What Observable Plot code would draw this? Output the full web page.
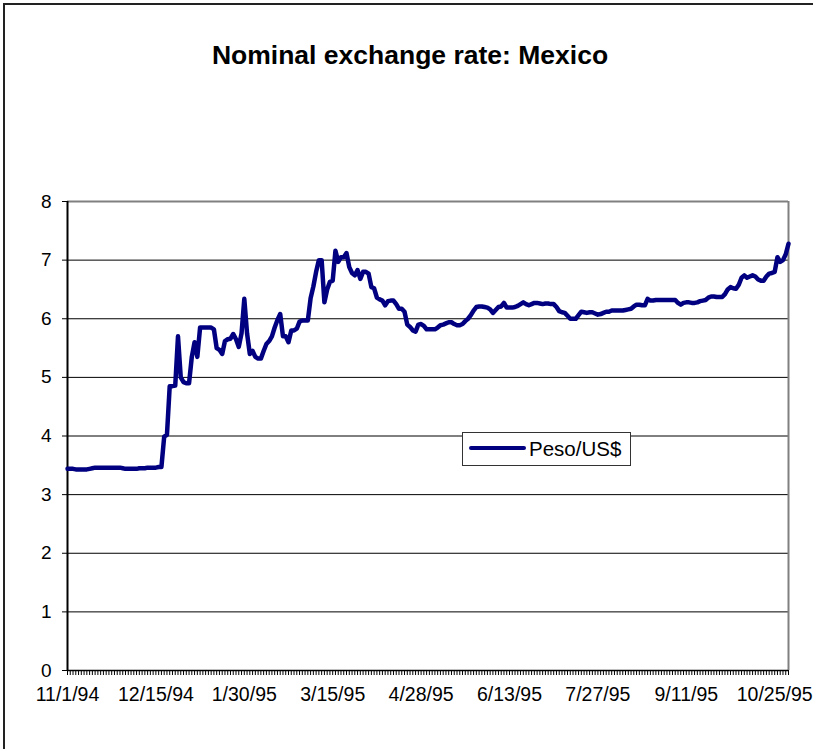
<!DOCTYPE html>
<html><head><meta charset="utf-8">
<script src="https://cdn.jsdelivr.net/npm/d3@7"></script>
<script src="https://cdn.jsdelivr.net/npm/@observablehq/plot@0.6"></script>
<style>
body{margin:0;background:#fff;font-family:"Liberation Sans",Arial,sans-serif;}
#wrap{position:relative;width:813px;height:749px;overflow:hidden;background:#fff;}
#frame{position:absolute;left:3px;top:3px;width:830px;height:770px;border:2px solid #222;}
#title{position:absolute;left:0;width:820px;top:40px;text-align:center;font-weight:bold;font-size:26.5px;color:#000;}
#chart{position:absolute;left:0;top:0;}
#legend{position:absolute;left:462px;top:432px;width:167px;height:32px;border:1px solid #333;background:#fff;}
#legend .sw{position:absolute;left:6px;top:13px;width:57px;height:4px;border-radius:2px;background:#000080;}
#legend .tx{position:absolute;left:66px;top:4px;font-size:20.5px;line-height:24px;color:#000;}
</style></head>
<body>
<div id="wrap">
  <div id="frame"></div>
  <div id="chart"></div>
  <div id="title">Nominal exchange rate: Mexico</div>
  <div id="legend"><div class="sw"></div><div class="tx">Peso/US$</div></div>
</div>
<script>
// Category tick labels (every 32nd business day)
const tickLabels = ["11/1/94","12/15/94","1/30/95","3/15/95","4/28/95","6/13/95","7/27/95","9/11/95","10/25/95"];
const seriesName = "Peso/US$";
// Daily (business-day) peso per US$ rate, 11/1/94 .. 11/1/95
const rate = [
3.44,3.44,3.44,3.43,3.43,3.43,3.43,3.43,3.44,3.45,
3.46,3.46,3.46,3.46,3.46,3.46,3.46,3.46,3.46,3.46,
3.45,3.44,3.44,3.44,3.44,3.44,3.45,3.45,3.45,3.46,
3.46,3.46,3.46,3.47,3.47,3.99,4.02,4.85,4.85,4.86,
5.70,5.00,4.92,4.90,4.90,5.35,5.60,5.35,5.85,5.85,
5.85,5.85,5.85,5.82,5.50,5.47,5.40,5.62,5.65,5.66,
5.74,5.65,5.52,5.75,6.34,5.75,5.40,5.45,5.35,5.32,
5.32,5.45,5.57,5.62,5.70,5.85,5.98,6.08,5.70,5.70,
5.60,5.80,5.80,5.83,5.95,5.97,5.97,5.97,6.35,6.55,
6.80,7.00,7.00,6.28,6.50,6.63,6.65,7.16,6.97,7.05,
7.05,7.12,6.88,6.78,6.74,6.83,6.68,6.80,6.80,6.77,
6.54,6.52,6.36,6.33,6.31,6.23,6.30,6.31,6.31,6.25,
6.17,6.17,6.12,5.90,5.86,5.80,5.78,5.90,5.91,5.88,
5.82,5.82,5.82,5.82,5.85,5.89,5.90,5.92,5.94,5.94,
5.91,5.89,5.89,5.91,5.96,6.00,6.06,6.14,6.20,6.21,
6.21,6.20,6.19,6.16,6.10,6.15,6.20,6.21,6.27,6.19,
6.19,6.19,6.20,6.22,6.25,6.28,6.25,6.23,6.25,6.27,
6.27,6.26,6.25,6.26,6.26,6.25,6.25,6.20,6.13,6.11,
6.10,6.05,6.00,6.00,6.00,6.06,6.12,6.11,6.10,6.11,
6.11,6.09,6.07,6.08,6.10,6.12,6.12,6.14,6.14,6.14,
6.14,6.14,6.15,6.16,6.17,6.21,6.24,6.24,6.23,6.23,
6.34,6.31,6.31,6.32,6.32,6.32,6.32,6.32,6.32,6.32,
6.32,6.27,6.24,6.27,6.28,6.28,6.27,6.27,6.28,6.30,
6.31,6.32,6.36,6.38,6.38,6.37,6.37,6.37,6.42,6.50,
6.54,6.52,6.51,6.58,6.70,6.74,6.70,6.72,6.74,6.72,
6.67,6.65,6.65,6.72,6.77,6.78,6.80,7.05,6.97,7.00,
7.10,7.28
];
const yTicks = [0,1,2,3,4,5,6,7,8];

const data = rate.map((v, i) => ({i, v, s: seriesName}));
const n = rate.length;
const chart = Plot.plot({
  width: 813, height: 749,
  marginLeft: 67, marginRight: 25, marginTop: 201, marginBottom: 79,
  x: {domain: [0, n - 1], label: null},
  y: {domain: [0, 8], label: null},
  style: {fontFamily: "'Liberation Sans', Arial, sans-serif", fontSize: "19px", color: "#000", background: "transparent", overflow: "visible"},
  marks: [
    Plot.ruleY(yTicks.filter(d => d > 0 && d < 8), {stroke: "#000", strokeWidth: 1}),
    Plot.ruleY([8], {stroke: "#808080", strokeWidth: 2}),
    Plot.ruleX([n - 1], {stroke: "#808080", strokeWidth: 2}),
    Plot.axisY({ticks: yTicks, tickSize: 5, tickPadding: 11, fontSize: 19, stroke: "#000", label: null}),
    Plot.axisX({ticks: d3.range(n), tickSize: 5, tickPadding: 12, fontSize: 19.5, stroke: "#000", label: null,
      tickFormat: i => (i % 32 === 0 && tickLabels[i / 32]) ? tickLabels[i / 32] : ""}),
    Plot.ruleX([0], {stroke: "#000", strokeWidth: 2}),
    Plot.ruleY([0], {stroke: "#000", strokeWidth: 1.5}),
    Plot.line(data, {x: "i", y: "v", stroke: "#000080", strokeWidth: 4.5, strokeLinejoin: "round", strokeLinecap: "round"})
  ]
});
document.getElementById("chart").appendChild(chart);
</script>
</body></html>
